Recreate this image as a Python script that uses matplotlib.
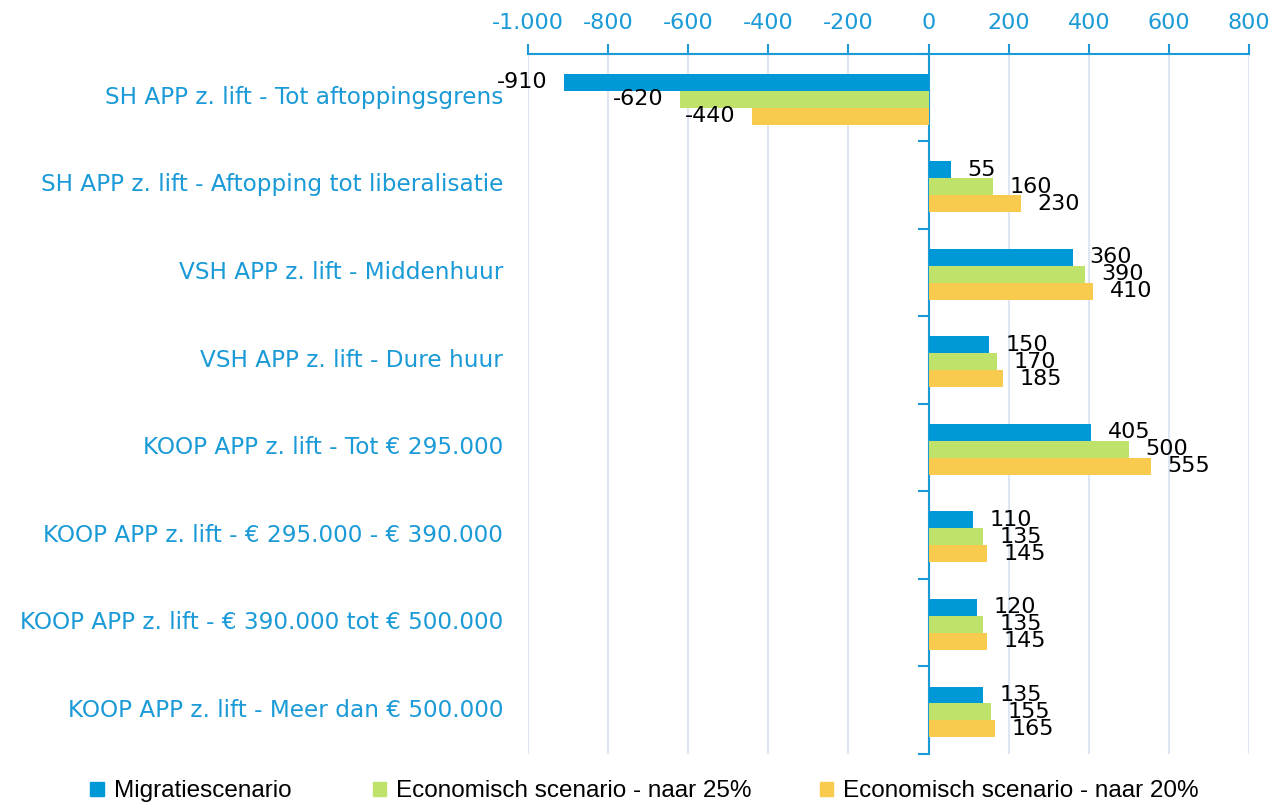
import numpy as np
import matplotlib.pyplot as plt
from matplotlib.patches import Patch
from matplotlib.ticker import FuncFormatter

categories = [
    'SH APP z. lift - Tot aftoppingsgrens',
    'SH APP z. lift - Aftopping tot liberalisatie',
    'VSH APP z. lift - Middenhuur',
    'VSH APP z. lift - Dure huur',
    'KOOP APP z. lift - Tot € 295.000',
    'KOOP APP z. lift - € 295.000 - € 390.000',
    'KOOP APP z. lift - € 390.000 tot € 500.000',
    'KOOP APP z. lift - Meer dan € 500.000',
]
series_names = ['Migratiescenario', 'Economisch scenario - naar 25%', 'Economisch scenario - naar 20%']
migratie = [-910, 55, 360, 150, 405, 110, 120, 135]
econ_25 = [-620, 160, 390, 170, 500, 135, 135, 155]
econ_20 = [-440, 230, 410, 185, 555, 145, 145, 165]

COLORS = ['#0098d6', '#bfe26b', '#f8cb4f']
BLUE = '#1a9ad6'
GRID = '#dde6f2'
AXFONT = ['DejaVu Sans']

plt.rcParams['font.family'] = ['Liberation Sans', 'DejaVu Sans']

fig = plt.figure(figsize=(12.82, 8.06), dpi=100)
ax = fig.add_axes([0.4119, 0.0645, 0.5624, 0.869])

ypos = np.arange(len(categories))
bh = 0.194
for k, vals in enumerate([migratie, econ_25, econ_20]):
   yy = ypos + (k - 1) * bh + 0.02
   ax.barh(yy, vals, height=bh, color=COLORS[k], zorder=3)
   for y, v in zip(yy, vals):
      off = 12 if v >= 0 else -12
      ax.annotate(str(v), (v, y), xytext=(off, 0), textcoords='offset points',
                  ha='left' if v >= 0 else 'right', va='center', fontsize=16,
                  color='black', zorder=4, family=AXFONT)

ax.set_xlim(-1000, 800)
ax.set_ylim(len(categories) - 0.5, -0.5)
ax.set_xticks(np.arange(-1000, 801, 200))
ax.xaxis.set_major_formatter(FuncFormatter(lambda v, p: f'{int(v):,}'.replace(',', '.')))
ax.xaxis.tick_top()
ax.tick_params(axis='x', colors=BLUE, labelcolor=BLUE, labelsize=16, length=7, width=1.5, pad=8, direction='out')
for lbl in ax.get_xticklabels():
   lbl.set_family(AXFONT)
ax.grid(axis='x', color=GRID, linewidth=1.5, zorder=0)

for s in ['bottom', 'right']:
   ax.spines[s].set_visible(False)
ax.spines['top'].set_color(BLUE)
ax.spines['top'].set_linewidth(1.5)
ax.spines['left'].set_position(('data', 0))
ax.spines['left'].set_color(BLUE)
ax.spines['left'].set_linewidth(1.5)
ax.set_yticks(np.arange(len(categories) + 1) - 0.5)
ax.set_yticklabels([])
ax.tick_params(axis='y', colors=BLUE, length=8, width=1.5, direction='out')

for y, c in zip(ypos, categories):
   ax.text(-25 / 721, y, c, transform=ax.get_yaxis_transform(), ha='right', va='center',
           fontsize=16.7, color=BLUE, family=AXFONT)

# legend entries sit at fixed spots along the bottom
legend_x = [0.063, 0.283, 0.632]
for x, name, col in zip(legend_x, series_names, COLORS):
   fig.legend(handles=[Patch(color=col)], labels=[name], loc='center left',
              bbox_to_anchor=(x, 0.018), frameon=False, fontsize=17.5,
              handlelength=0.55, handleheight=0.55, handletextpad=0.4, borderaxespad=0)

fig.savefig('out.png', dpi=100)
